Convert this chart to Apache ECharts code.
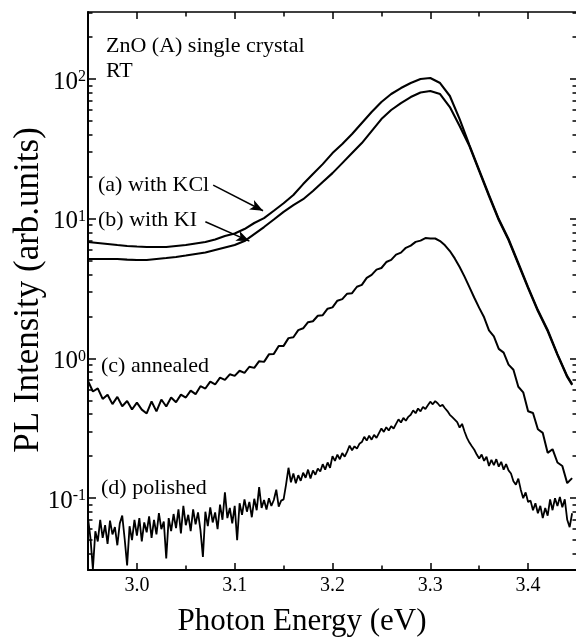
<!DOCTYPE html>
<html>
<head>
<meta charset="utf-8">
<script src="https://cdn.jsdelivr.net/npm/echarts@6.0.0/dist/echarts.min.js"></script>
<style>
  html, body { margin: 0; padding: 0; background: #fff; }
  #chart { width: 576px; height: 641px; }
</style>
</head>
<body>
<div id="chart"></div>
<script>
// photon energy grid (eV) for the two smooth spectra
const energyAB = [
  2.95, 2.96, 2.97, 2.98, 2.99, 3.00, 3.01, 3.02, 3.03, 3.04,
  3.05, 3.06, 3.07, 3.08, 3.09, 3.10, 3.11, 3.12, 3.13, 3.14,
  3.15, 3.16, 3.17, 3.18, 3.19, 3.20, 3.21, 3.22, 3.23, 3.24,
  3.25, 3.26, 3.27, 3.28, 3.29, 3.30, 3.31, 3.32, 3.33, 3.34,
  3.35, 3.36, 3.37, 3.38, 3.39, 3.40, 3.41, 3.42, 3.43, 3.44,
  3.445
];

// (a) with KCl
const kclValues = [
  6.81, 6.70, 6.59, 6.48, 6.38, 6.32, 6.27, 6.27, 6.27, 6.38,
  6.48, 6.65, 6.81, 7.10, 7.52, 7.84, 8.44, 9.32, 10.1, 11.4,
  12.9, 14.8, 17.7, 20.9, 24.6, 29.5, 34.3, 40.4, 48.4, 58.0,
  68.5, 78.1, 86.2, 93.6, 100, 101.7, 93.6, 75.6, 51.7, 33.7,
  22.3, 14.8, 9.95, 7.16, 4.82, 3.24, 2.22, 1.60, 1.075, 0.748,
  0.656
];

// (b) with KI
const kiValues = [
  5.15, 5.15, 5.15, 5.15, 5.10, 5.06, 5.06, 5.15, 5.23, 5.32,
  5.45, 5.59, 5.73, 5.97, 6.22, 6.48, 6.92, 7.77, 8.72, 9.87,
  11.2, 12.5, 13.8, 15.8, 18.3, 21.2, 25.0, 29.5, 34.8, 42.4,
  51.7, 60.0, 67.3, 74.3, 80.1, 82.1, 78.1, 63.0, 46.1, 33.1,
  21.9, 14.5, 9.79, 7.04, 4.74, 3.19, 2.18, 1.57, 1.06, 0.736,
  0.646
];

// (c) annealed, sampled every 0.005 eV from 2.950 eV
const annealedStart = 2.95;
const annealedStep = 0.005;
const annealedValues = [
  0.69, 0.58, 0.61, 0.513, 0.55, 0.471, 0.531, 0.455, 0.496, 0.431,
  0.483, 0.43, 0.404, 0.492, 0.418, 0.508, 0.453, 0.525, 0.486, 0.551,
  0.525, 0.588, 0.555, 0.633, 0.609, 0.682, 0.651, 0.728, 0.702, 0.77,
  0.75, 0.816, 0.788, 0.872, 0.856, 0.956, 0.945, 1.07, 1.078, 1.226,
  1.23, 1.398, 1.417, 1.593, 1.644, 1.816, 1.845, 2.02, 2.04, 2.27,
  2.32, 2.59, 2.66, 2.91, 2.93, 3.26, 3.36, 3.77, 3.96, 4.32,
  4.44, 4.90, 5.07, 5.54, 5.72, 6.19, 6.42, 6.83, 6.97, 7.27,
  7.21, 7.22, 6.92, 6.45, 5.87, 5.2, 4.51, 3.85, 3.24, 2.72,
  2.30, 1.97, 1.59, 1.44, 1.17, 1.10, 0.904, 0.83, 0.627, 0.572,
  0.419, 0.407, 0.311, 0.293, 0.211, 0.224, 0.18, 0.17, 0.128, 0.139
];

// (d) polished, sampled every 0.0025 eV from 2.950 eV
const polishedStart = 2.95;
const polishedStep = 0.0025;
const polishedValues = [
  0.072, 0.052, 0.031, 0.058, 0.049,
  0.070, 0.052, 0.064, 0.047, 0.069, 0.055, 0.062, 0.046,
  0.066, 0.075, 0.051, 0.033, 0.063, 0.050, 0.070,
  0.054, 0.072, 0.049, 0.067, 0.057, 0.074, 0.052,
  0.070, 0.055, 0.078, 0.060, 0.068, 0.037, 0.072,
  0.058, 0.077, 0.061, 0.083, 0.056, 0.088, 0.064,
  0.076, 0.058, 0.083, 0.065, 0.079, 0.059, 0.038,
  0.080, 0.063, 0.086, 0.067, 0.079, 0.060,
  0.090, 0.070, 0.110, 0.072, 0.085, 0.066, 0.088,
  0.050, 0.092, 0.076, 0.098, 0.080, 0.094, 0.073,
  0.099, 0.082, 0.120, 0.085, 0.097, 0.083,
  0.100, 0.088, 0.097, 0.115, 0.087, 0.096,
  0.098, 0.125, 0.165,
  0.130, 0.150, 0.128, 0.146, 0.133, 0.152,
  0.140, 0.160, 0.138, 0.158, 0.147, 0.163,
  0.155, 0.175, 0.160, 0.180, 0.165, 0.200,
  0.185, 0.205, 0.190, 0.210, 0.198,
  0.215, 0.238, 0.220, 0.235, 0.226, 0.245,
  0.252, 0.275, 0.258, 0.280, 0.262, 0.284, 0.270,
  0.292, 0.315, 0.298, 0.322, 0.305, 0.328, 0.315,
  0.340, 0.366, 0.348, 0.375, 0.358, 0.382,
  0.395, 0.425, 0.405, 0.438, 0.418, 0.450, 0.435,
  0.462, 0.490, 0.470, 0.495,
  0.478, 0.455, 0.465, 0.440,
  0.420, 0.395, 0.380, 0.365,
  0.350, 0.320, 0.340,
  0.300, 0.270, 0.250, 0.235,
  0.222, 0.205, 0.192, 0.205, 0.185, 0.198,
  0.170, 0.188, 0.172, 0.190, 0.168,
  0.182, 0.160, 0.175, 0.158,
  0.150, 0.132, 0.125, 0.138,
  0.115, 0.100, 0.110, 0.094,
  0.096, 0.082, 0.092, 0.078,
  0.088, 0.072, 0.085, 0.075,
  0.098, 0.082, 0.100, 0.088,
  0.102, 0.086, 0.098,
  0.070, 0.062, 0.078
];

// axis ticks
const xMajorTicks = [3.0, 3.1, 3.2, 3.3, 3.4];
const xMinorTicks = [3.05, 3.15, 3.25, 3.35];
const yMajorTicks = [0.1, 1, 10, 100];
const yMinorTicks = [
  0.04, 0.05, 0.06, 0.07, 0.08, 0.09,
  0.2, 0.3, 0.4, 0.5, 0.6, 0.7, 0.8, 0.9,
  2, 3, 4, 5, 6, 7, 8, 9,
  20, 30, 40, 50, 60, 70, 80, 90,
  200, 300
];

// arrows from the labels to curves (a) and (b), in data units
const arrowKCl = [[3.078, 17.4], [3.129, 11.4]];
const arrowKI = [[3.070, 9.52], [3.115, 6.92]];

const SERIF = '"Liberation Serif", "Times New Roman", serif';
const X_MIN = 2.95, X_MAX = 3.45;
const Y_MIN = 0.0306, Y_MAX = 301.8;

const toPairs = (xs, ys) => ys.map((v, i) => [xs[i], v]);
const gridPairs = (start, step, ys) =>
  ys.map((v, i) => [+(start + i * step).toFixed(4), v]);

const chart = echarts.init(document.getElementById('chart'), null, { renderer: 'canvas' });

function xAxisDef(position, ticks, len, showLine, showLabels) {
  return {
    type: 'value',
    position: position,
    min: X_MIN,
    max: X_MAX,
    axisLine: { show: showLine, lineStyle: { color: '#000', width: position === 'bottom' ? 2 : 1.5 } },
    axisTick: { show: true, inside: true, length: len, customValues: ticks,
      lineStyle: { color: '#000', width: 1.5 } },
    axisLabel: {
      show: showLabels,
      customValues: ticks,
      margin: 6,
      color: '#000',
      fontFamily: SERIF,
      fontSize: 20,
      formatter: v => v.toFixed(1)
    },
    splitLine: { show: false }
  };
}

function yAxisDef(position, ticks, len, showLine, showLabels) {
  return {
    type: 'log',
    logBase: 10,
    position: position,
    min: Y_MIN,
    max: Y_MAX,
    axisLine: { show: showLine, lineStyle: { color: '#000', width: 2 } },
    axisTick: { show: true, inside: true, length: len, customValues: ticks,
      lineStyle: { color: '#000', width: 1.5 } },
    axisLabel: {
      show: showLabels,
      customValues: ticks,
      margin: 2,
      padding: [6, 0, 0, 0],
      formatter: v => '{b|10}{s|' + Math.round(Math.log10(v)) + '}',
      rich: {
        b: { fontFamily: SERIF, fontSize: 25, color: '#000', lineHeight: 26 },
        s: { fontFamily: SERIF, fontSize: 16, color: '#000', lineHeight: 14, verticalAlign: 'top' }
      }
    },
    splitLine: { show: false }
  };
}

function arrowMark(pts) {
  return {
    silent: true,
    animation: false,
    symbol: ['none', 'arrow'],
    symbolSize: [8, 13],
    label: { show: false },
    lineStyle: { color: '#000', width: 1.5, type: 'solid' },
    emphasis: { disabled: true },
    data: [[{ coord: pts[0] }, { coord: pts[1] }]]
  };
}

function lineSeries(name, data, width, mark) {
  const s = {
    name: name,
    type: 'line',
    data: data,
    showSymbol: false,
    symbol: 'none',
    lineStyle: { color: '#000', width: width },
    emphasis: { disabled: true },
    z: 3
  };
  if (mark) s.markLine = mark;
  return s;
}

function annotation(text, x, y, size) {
  return {
    type: 'text',
    x: x,
    y: y,
    style: {
      text: text,
      font: size + 'px ' + SERIF,
      fill: '#000',
      textAlign: 'left',
      textVerticalAlign: 'middle'
    }
  };
}

const option = {
  animation: false,
  backgroundColor: '#fff',
  grid: { left: 88, top: 12, width: 489, height: 558, containLabel: false, outerBoundsMode: 'none' },
  xAxis: [
    xAxisDef('bottom', xMajorTicks, 7, true, true),
    xAxisDef('top', xMajorTicks, 7, true, false),
    xAxisDef('bottom', xMinorTicks, 4.5, false, false),
    xAxisDef('top', xMinorTicks, 4.5, false, false)
  ],
  yAxis: [
    yAxisDef('left', yMajorTicks, 8, true, true),
    yAxisDef('right', yMajorTicks, 7, false, false),
    yAxisDef('left', yMinorTicks, 4.5, false, false),
    yAxisDef('right', yMinorTicks, 4.5, false, false)
  ],
  series: [
    lineSeries('(a) with KCl', toPairs(energyAB, kclValues), 2.1, arrowMark(arrowKCl)),
    lineSeries('(b) with KI', toPairs(energyAB, kiValues), 2.1, arrowMark(arrowKI)),
    lineSeries('(c) annealed', gridPairs(annealedStart, annealedStep, annealedValues), 2),
    lineSeries('(d) polished', gridPairs(polishedStart, polishedStep, polishedValues), 1.8)
  ],
  graphic: [
    annotation('ZnO (A) single crystal', 106, 46, 22),
    annotation('RT', 106, 71, 22),
    annotation('(a) with KCl', 98, 185, 22),
    annotation('(b) with KI', 98, 220, 22),
    annotation('(c) annealed', 101, 366, 22),
    annotation('(d) polished', 101, 488, 22),
    {
      type: 'text',
      x: 302,
      y: 622,
      style: { text: 'Photon Energy (eV)', font: '31px ' + SERIF, fill: '#000',
        textAlign: 'center', textVerticalAlign: 'middle' }
    },
    {
      type: 'text',
      x: 29,
      y: 290,
      rotation: Math.PI / 2,
      style: { text: 'PL Intensity (arb.units)', font: '35px ' + SERIF, fill: '#000',
        textAlign: 'center', textVerticalAlign: 'middle' }
    }
  ]
};

chart.setOption(option);
window.addEventListener('resize', () => chart.resize());
</script>
</body>
</html>
